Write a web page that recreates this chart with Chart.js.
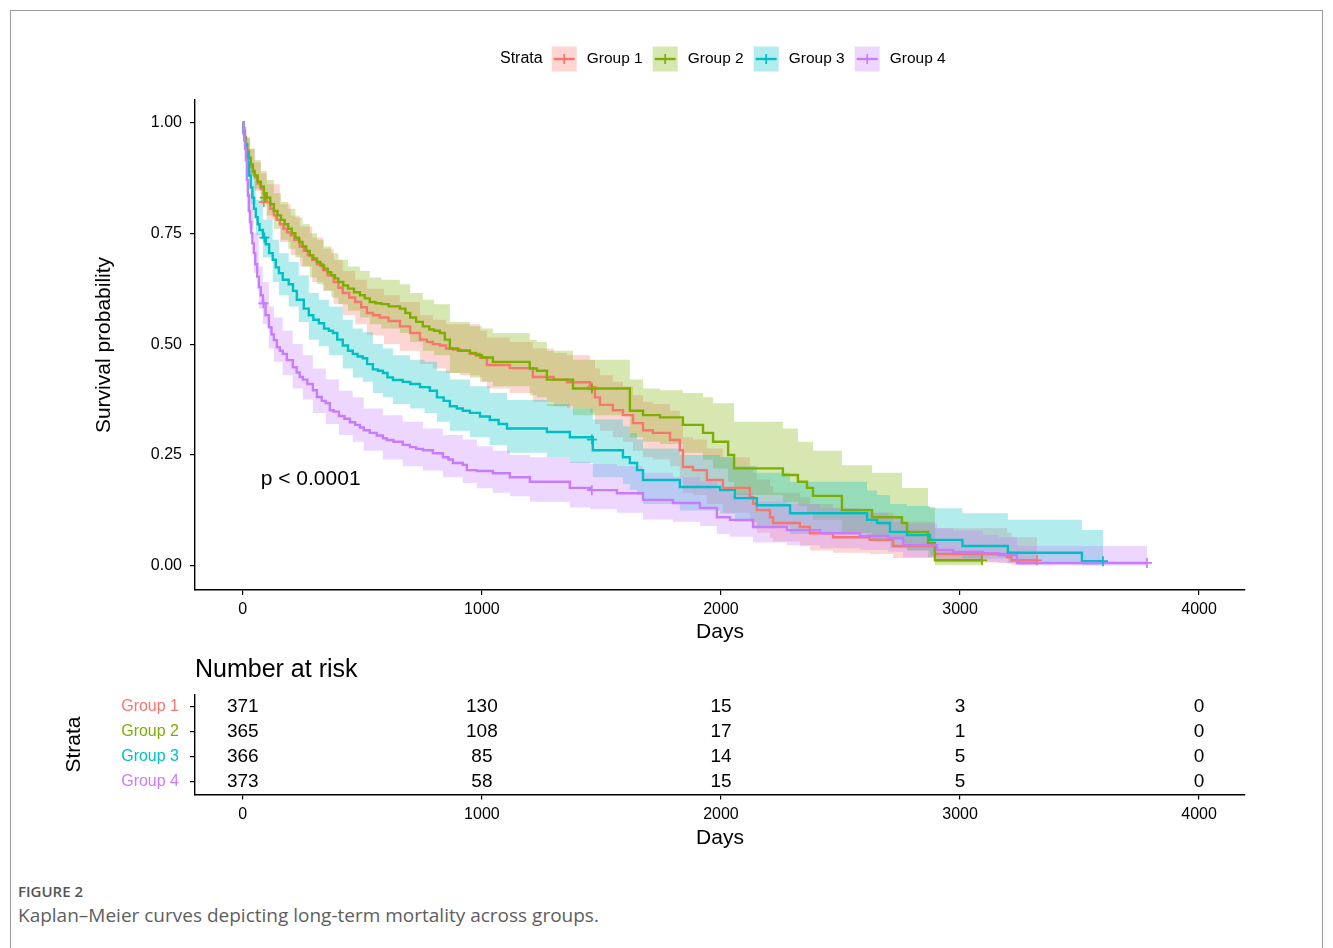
<!DOCTYPE html>
<html>
<head>
<meta charset="utf-8">
<script src="https://cdn.jsdelivr.net/npm/chart.js@4.4.1/dist/chart.umd.min.js"></script>
<style>
html,body{margin:0;padding:0;background:#fff;width:1333px;height:948px;overflow:hidden;}
#frame{position:absolute;left:10px;top:10px;width:1313px;height:1000px;border:1px solid #9a9a9a;box-sizing:border-box;}
#main{position:absolute;left:0;top:0;}
#risk{position:absolute;left:0;top:640px;}
#cap1{position:absolute;left:18px;top:881px;font-family:"Open Sans",sans-serif;font-size:15px;line-height:20px;font-weight:600;color:#555;}
#cap2{position:absolute;left:18px;top:902px;font-family:"Open Sans",sans-serif;font-size:19px;line-height:26px;color:#5e5e5e;}
</style>
</head>
<body>
<div id="frame"></div>
<canvas id="main" width="1333" height="660"></canvas>
<canvas id="risk" width="1333" height="230"></canvas>
<div id="cap1">FIGURE 2</div>
<div id="cap2">Kaplan–Meier curves depicting long-term mortality across groups.</div>
<script>
// ---------- DATA ----------
const groups = ['Group 1', 'Group 2', 'Group 3', 'Group 4'];
const xTicks = [0, 1000, 2000, 3000, 4000];
const yTicks = [0, 0.25, 0.5, 0.75, 1];

// survival curves (step points: time, survival after the step)
const g1Time = [0,3,7,12,18,25,33,42,50,62,75,88,100,115,130,142,155,170,185,200,215,238,255,272,290,310,335,355,380,400,418,445,470,495,519,545,573,610,657,700,741,770,795,824,850,880,908,950,992,1021,1117,1213,1300,1356,1452,1473,1494,1548,1590,1632,1674,1715,1787,1828,1841,1883,1941,2008,2121,2135,2150,2205,2218,2330,2372,2469,2623,2720,2895,3197,3215,3322];
const g1Surv = [1,0.98,0.965,0.95,0.935,0.918,0.90,0.888,0.876,0.862,0.85,0.835,0.82,0.805,0.79,0.78,0.77,0.76,0.752,0.745,0.735,0.72,0.71,0.70,0.69,0.68,0.667,0.655,0.64,0.627,0.615,0.605,0.595,0.583,0.57,0.565,0.56,0.552,0.54,0.525,0.51,0.505,0.50,0.497,0.49,0.488,0.486,0.478,0.47,0.453,0.446,0.426,0.42,0.414,0.403,0.38,0.363,0.351,0.34,0.322,0.306,0.30,0.284,0.261,0.223,0.216,0.194,0.176,0.155,0.14,0.126,0.11,0.097,0.088,0.074,0.065,0.059,0.045,0.027,0.02,0.013,0.013];

const g2Time = [0,3,7,12,18,25,33,42,50,62,75,88,100,115,130,145,160,175,190,205,220,235,250,265,280,295,310,325,340,355,370,385,400,420,440,465,490,510,531,555,580,610,657,680,700,725,753,780,800,824,845,866,900,950,975,1000,1046,1200,1230,1272,1381,1619,1674,1745,1841,1925,1967,2030,2055,2259,2322,2360,2385,2506,2632,2757,2778,2866,2895,3092];
const g2Surv = [1,0.98,0.965,0.95,0.935,0.92,0.905,0.89,0.88,0.866,0.855,0.84,0.83,0.815,0.80,0.79,0.78,0.77,0.76,0.75,0.74,0.73,0.72,0.71,0.70,0.693,0.685,0.677,0.67,0.662,0.655,0.648,0.64,0.632,0.625,0.617,0.61,0.603,0.595,0.592,0.59,0.585,0.58,0.57,0.56,0.55,0.54,0.533,0.53,0.525,0.51,0.49,0.485,0.48,0.475,0.47,0.46,0.445,0.44,0.42,0.40,0.35,0.34,0.335,0.318,0.30,0.28,0.25,0.22,0.205,0.19,0.176,0.158,0.126,0.11,0.097,0.077,0.052,0.013,0.013];

const g3Time = [0,3,7,10,15,20,26,33,40,47,54,62,70,84,96,110,125,138,151,167,192,210,226,255,276,295,318,340,360,377,395,418,440,460,480,502,520,544,565,586,605,628,669,700,741,782,812,840,866,895,920,950,992,1033,1070,1105,1272,1368,1464,1590,1619,1649,1674,1828,1996,2058,2150,2289,2611,2653,2707,2778,2874,3010,3200,3510,3598];
const g3Surv = [1,0.975,0.96,0.95,0.93,0.91,0.88,0.853,0.83,0.805,0.786,0.77,0.757,0.74,0.725,0.705,0.69,0.673,0.66,0.645,0.635,0.62,0.60,0.58,0.565,0.555,0.547,0.535,0.53,0.525,0.51,0.497,0.485,0.478,0.472,0.468,0.455,0.443,0.44,0.435,0.425,0.419,0.415,0.41,0.403,0.395,0.38,0.372,0.36,0.355,0.35,0.345,0.337,0.329,0.32,0.31,0.302,0.29,0.261,0.245,0.232,0.216,0.194,0.178,0.171,0.153,0.137,0.119,0.104,0.097,0.077,0.07,0.059,0.045,0.03,0.011,0.011];

const g4Time = [0,3,6,9,13,17,21,25,30,35,40,46,52,60,67,75,84,95,109,120,130,142,155,167,184,209,225,238,251,270,293,310,330,347,364,380,402,425,448,470,490,506,531,560,586,602,630,669,699,725,753,795,837,860,879,920,937,979,1046,1117,1201,1368,1452,1565,1674,1799,1912,1983,2038,2134,2276,2414,2582,2700,2762,2904,2971,3096,3160,3238,3782];
const g4Surv = [1,0.975,0.96,0.94,0.914,0.87,0.835,0.80,0.775,0.75,0.727,0.705,0.68,0.652,0.628,0.61,0.592,0.565,0.538,0.522,0.509,0.493,0.485,0.478,0.464,0.448,0.436,0.426,0.42,0.41,0.396,0.381,0.372,0.367,0.351,0.348,0.338,0.332,0.324,0.318,0.312,0.306,0.30,0.294,0.288,0.284,0.28,0.273,0.268,0.264,0.261,0.254,0.245,0.24,0.232,0.228,0.216,0.214,0.209,0.20,0.19,0.176,0.171,0.164,0.149,0.142,0.131,0.11,0.104,0.088,0.081,0.074,0.068,0.063,0.047,0.036,0.032,0.029,0.025,0.007,0.007];

// confidence bands (time, lower, upper)
const g1BandTime = [0,5,15,30,50,75,100,155,200,238,290,335,380,418,470,519,590,657,741,795,850,908,992,1021,1117,1213,1300,1356,1452,1473,1494,1548,1590,1632,1674,1715,1787,1828,1841,1883,1941,2008,2121,2135,2150,2205,2218,2330,2372,2469,2623,2720,2895,3197,3215,3322];
const g1Lower = [1,0.95,0.915,0.88,0.845,0.815,0.78,0.73,0.70,0.675,0.64,0.62,0.59,0.565,0.545,0.52,0.50,0.485,0.455,0.445,0.435,0.43,0.415,0.40,0.39,0.37,0.36,0.355,0.345,0.32,0.305,0.29,0.28,0.26,0.245,0.24,0.225,0.20,0.165,0.16,0.14,0.12,0.10,0.09,0.075,0.063,0.055,0.045,0.035,0.03,0.027,0.018,0.008,0.005,0.003,0.003];
const g1Upper = [1,0.99,0.965,0.94,0.91,0.885,0.86,0.815,0.79,0.765,0.74,0.715,0.69,0.665,0.645,0.625,0.61,0.595,0.565,0.555,0.545,0.545,0.53,0.515,0.505,0.49,0.48,0.475,0.465,0.445,0.43,0.415,0.405,0.385,0.37,0.365,0.35,0.33,0.29,0.285,0.265,0.245,0.225,0.21,0.195,0.18,0.165,0.155,0.14,0.13,0.12,0.10,0.085,0.075,0.065,0.065];

const g2BandTime = [0,5,15,30,50,75,100,130,160,190,220,250,280,310,340,370,400,440,490,531,580,657,700,753,800,866,950,1000,1046,1200,1230,1272,1381,1619,1674,1745,1841,1925,1967,2030,2055,2259,2322,2360,2385,2506,2632,2757,2778,2866,2895,3092];
const g2Lower = [1,0.95,0.915,0.88,0.85,0.82,0.79,0.76,0.735,0.715,0.695,0.675,0.65,0.635,0.62,0.605,0.59,0.575,0.56,0.545,0.535,0.525,0.505,0.485,0.475,0.435,0.425,0.415,0.405,0.385,0.38,0.36,0.34,0.29,0.28,0.275,0.255,0.24,0.22,0.19,0.16,0.145,0.135,0.12,0.105,0.075,0.06,0.05,0.035,0.02,0.002,0.002];
const g2Upper = [1,0.99,0.965,0.94,0.915,0.89,0.87,0.84,0.82,0.805,0.785,0.77,0.75,0.735,0.72,0.705,0.69,0.675,0.665,0.65,0.645,0.635,0.615,0.60,0.59,0.55,0.54,0.535,0.525,0.51,0.505,0.485,0.465,0.42,0.40,0.396,0.39,0.38,0.367,0.367,0.325,0.31,0.28,0.28,0.26,0.227,0.21,0.176,0.176,0.133,0.03,0.03];

const g3BandTime = [0,10,20,33,54,84,125,151,192,234,276,318,360,418,460,502,544,586,628,700,760,812,866,950,1033,1105,1272,1368,1464,1590,1619,1649,1674,1828,1996,2058,2150,2289,2611,2653,2707,2778,2874,3010,3200,3510,3598];
const g3Lower = [1,0.93,0.88,0.815,0.745,0.695,0.64,0.61,0.585,0.55,0.51,0.495,0.475,0.445,0.425,0.415,0.39,0.38,0.365,0.355,0.345,0.325,0.305,0.29,0.272,0.255,0.245,0.232,0.20,0.185,0.172,0.16,0.14,0.125,0.118,0.10,0.09,0.072,0.06,0.055,0.04,0.035,0.025,0.017,0.008,0.002,0.002];
const g3Upper = [1,0.97,0.935,0.89,0.825,0.78,0.735,0.705,0.685,0.655,0.615,0.60,0.585,0.555,0.535,0.527,0.50,0.49,0.475,0.465,0.46,0.44,0.42,0.405,0.39,0.374,0.365,0.355,0.33,0.315,0.30,0.285,0.265,0.25,0.245,0.225,0.21,0.19,0.17,0.16,0.14,0.135,0.13,0.119,0.104,0.081,0.081];

const g4BandTime = [0,6,13,25,46,67,84,109,130,167,209,251,293,347,402,460,506,586,669,753,837,920,979,1046,1117,1201,1368,1452,1565,1674,1799,1912,1983,2038,2134,2276,2414,2582,2700,2762,2904,2971,3096,3160,3238,3782];
const g4Lower = [1,0.94,0.885,0.76,0.66,0.58,0.545,0.49,0.46,0.43,0.40,0.375,0.345,0.32,0.295,0.28,0.26,0.24,0.225,0.215,0.20,0.187,0.175,0.165,0.157,0.145,0.132,0.128,0.12,0.105,0.10,0.09,0.072,0.066,0.053,0.047,0.04,0.036,0.032,0.02,0.013,0.011,0.009,0.007,0.001,0.001];
const g4Upper = [1,0.98,0.94,0.84,0.75,0.675,0.64,0.585,0.56,0.53,0.50,0.475,0.445,0.42,0.395,0.38,0.355,0.34,0.325,0.31,0.295,0.285,0.27,0.26,0.25,0.245,0.235,0.23,0.225,0.21,0.20,0.19,0.17,0.165,0.145,0.14,0.13,0.12,0.11,0.095,0.085,0.08,0.07,0.065,0.045,0.045];

// censoring marks
const c1Time = [88, 1460, 3322];  const c1Surv = [0.82, 0.403, 0.013];
const c2Time = [92, 1460, 3092];  const c2Surv = [0.83, 0.40, 0.013];
const c3Time = [90, 1460, 3598];  const c3Surv = [0.74, 0.285, 0.011];
const c4Time = [86, 1460, 3782];  const c4Surv = [0.592, 0.171, 0.007];

// number at risk
const riskTimes = [0, 1000, 2000, 3000, 4000];
const riskG1 = [371, 130, 15, 3, 0];
const riskG2 = [365, 108, 17, 1, 0];
const riskG3 = [366, 85, 14, 5, 0];
const riskG4 = [373, 58, 15, 5, 0];

const pText = 'p < 0.0001';
const pPos = [75, 0.195];

// ---------- STYLE ----------
const colors = ['#F8766D', '#7CAE00', '#00BFC4', '#C77CFF'];
const FONT = '"Liberation Sans", Arial, sans-serif';
Chart.defaults.font.family = FONT;
Chart.defaults.color = '#000';
function rgba(hex, a) {
  const n = parseInt(hex.slice(1), 16);
  return `rgba(${(n >> 16) & 255},${(n >> 8) & 255},${n & 255},${a})`;
}

const series = [
  {time: g1Time, surv: g1Surv, bt: g1BandTime, lo: g1Lower, hi: g1Upper, ct: c1Time, cs: c1Surv},
  {time: g2Time, surv: g2Surv, bt: g2BandTime, lo: g2Lower, hi: g2Upper, ct: c2Time, cs: c2Surv},
  {time: g3Time, surv: g3Surv, bt: g3BandTime, lo: g3Lower, hi: g3Upper, ct: c3Time, cs: c3Surv},
  {time: g4Time, surv: g4Surv, bt: g4BandTime, lo: g4Lower, hi: g4Upper, ct: c4Time, cs: c4Surv}
];

const datasets = [];
series.forEach((s, i) => {
  datasets.push({
    label: groups[i] + ' upper', data: s.bt.map((t, k) => ({x: t, y: s.hi[k]})),
    stepped: true, borderWidth: 0, borderColor: 'rgba(0,0,0,0)', pointRadius: 0,
    fill: '+1', backgroundColor: rgba(colors[i], 0.3), order: 30 - i
  });
  datasets.push({
    label: groups[i] + ' lower', data: s.bt.map((t, k) => ({x: t, y: s.lo[k]})),
    stepped: true, borderWidth: 0, borderColor: 'rgba(0,0,0,0)', pointRadius: 0,
    fill: false, order: 30 - i
  });
});
series.forEach((s, i) => {
  datasets.push({
    label: groups[i], data: s.time.map((t, k) => ({x: t, y: s.surv[k]})),
    stepped: true, borderColor: colors[i], borderWidth: 2.4, pointRadius: 0, fill: false,
    order: 10 - i
  });
});
series.forEach((s, i) => {
  datasets.push({
    label: groups[i] + ' censor', data: s.ct.map((t, k) => ({x: t, y: s.cs[k]})),
    showLine: false, pointStyle: 'cross', pointRadius: 5, pointBorderWidth: 1.7,
    borderColor: colors[i], pointBorderColor: colors[i], fill: false, order: 5 - i
  });
});

const legendPlugin = {
  id: 'kmLegend',
  afterDraw(chart) {
    const ctx = chart.ctx;
    ctx.save();
    const cy = 59;
    let x = 500;
    ctx.textBaseline = 'middle';
    ctx.textAlign = 'left';
    ctx.fillStyle = '#000';
    ctx.font = '16px ' + FONT;
    ctx.fillText('Strata', x, cy);
    x += ctx.measureText('Strata').width + 9;
    ctx.font = '15.5px ' + FONT;
    groups.forEach((g, i) => {
      ctx.fillStyle = rgba(colors[i], 0.3);
      ctx.fillRect(x, cy - 12.5, 25, 25);
      ctx.strokeStyle = colors[i];
      ctx.lineWidth = 2.4;
      ctx.beginPath(); ctx.moveTo(x + 2, cy); ctx.lineTo(x + 23, cy); ctx.stroke();
      ctx.lineWidth = 1.7;
      ctx.beginPath(); ctx.moveTo(x + 12.5, cy - 5); ctx.lineTo(x + 12.5, cy + 5); ctx.stroke();
      x += 25 + 10;
      ctx.fillStyle = '#000';
      ctx.fillText(g, x, cy);
      x += ctx.measureText(g).width + 10;
    });
    const xs = chart.scales.x, ys = chart.scales.y;
    ctx.font = '21px ' + FONT;
    ctx.fillStyle = '#000';
    ctx.fillText(pText, xs.getPixelForValue(pPos[0]), ys.getPixelForValue(pPos[1]));
    ctx.restore();
  }
};

new Chart(document.getElementById('main'), {
  type: 'line',
  data: {datasets},
  options: {
    responsive: false, animation: false, devicePixelRatio: 1,
    layout: {padding: {left: 0, right: 88, top: 100, bottom: 0}},
    plugins: {legend: {display: false}, tooltip: {enabled: false}},
    scales: {
      x: {
        type: 'linear', min: -200, max: 4192,
        afterBuildTicks: sc => { sc.ticks = xTicks.map(v => ({value: v})); },
        afterFit: sc => { sc.height = 70; },
        grid: {display: true, drawOnChartArea: false, drawTicks: true, tickLength: 5, color: '#000', lineWidth: 1.2},
        border: {display: true, color: '#000', width: 1.4},
        ticks: {color: '#000', font: {size: 16}, padding: 5, maxRotation: 0, autoSkip: false, callback: v => String(v)},
        title: {display: true, text: 'Days', color: '#000', font: {size: 21}, padding: {top: 0, bottom: 15}}
      },
      y: {
        type: 'linear', min: -0.054, max: 1.05,
        afterBuildTicks: sc => { sc.ticks = yTicks.map(v => ({value: v})); },
        afterFit: sc => { sc.width = 195; },
        grid: {display: true, drawOnChartArea: false, drawTicks: true, tickLength: 5, color: '#000', lineWidth: 1.2},
        border: {display: true, color: '#000', width: 1.4},
        ticks: {color: '#000', font: {size: 16}, padding: 8, autoSkip: false, callback: v => Number(v).toFixed(2)},
        title: {display: true, text: 'Survival probability', color: '#000', font: {size: 21}, padding: {top: 92, bottom: 0}}
      }
    }
  },
  plugins: [legendPlugin]
});

// ---------- RISK TABLE ----------
const riskData = [riskG1, riskG2, riskG3, riskG4];
const riskDatasets = groups.map((g, i) => ({
  label: g,
  data: riskTimes.map((t, k) => ({x: t, y: g, n: riskData[i][k]})),
  showLine: false, pointRadius: 0
}));

const riskPlugin = {
  id: 'riskText',
  afterDatasetsDraw(chart) {
    const ctx = chart.ctx;
    ctx.save();
    ctx.fillStyle = '#000';
    ctx.textAlign = 'center';
    ctx.textBaseline = 'middle';
    ctx.font = '19px ' + FONT;
    chart.data.datasets.forEach((ds, i) => {
      const meta = chart.getDatasetMeta(i);
      meta.data.forEach((el, k) => {
        ctx.fillText(String(ds.data[k].n), el.x, el.y);
      });
    });
    ctx.textAlign = 'left';
    ctx.font = '25px ' + FONT;
    ctx.fillText('Number at risk', chart.chartArea.left, 30);
    ctx.restore();
  }
};

new Chart(document.getElementById('risk'), {
  type: 'line',
  data: {labels: groups, datasets: riskDatasets},
  options: {
    responsive: false, animation: false, devicePixelRatio: 1,
    layout: {padding: {left: 0, right: 88, top: 54.5, bottom: 0}},
    plugins: {legend: {display: false}, tooltip: {enabled: false}},
    scales: {
      x: {
        type: 'linear', min: -200, max: 4192,
        afterBuildTicks: sc => { sc.ticks = xTicks.map(v => ({value: v})); },
        afterFit: sc => { sc.height = 75.5; },
        grid: {display: true, drawOnChartArea: false, drawTicks: true, tickLength: 5, color: '#000', lineWidth: 1.2},
        border: {display: true, color: '#000', width: 1.4},
        ticks: {color: '#000', font: {size: 16}, padding: 5, maxRotation: 0, autoSkip: false, callback: v => String(v)},
        title: {display: true, text: 'Days', color: '#000', font: {size: 21}, padding: {top: 0, bottom: 19}}
      },
      y: {
        type: 'category', labels: groups, offset: true,
        afterFit: sc => { sc.width = 195; },
        grid: {display: true, offset: false, drawOnChartArea: false, drawTicks: true, tickLength: 5, color: '#000', lineWidth: 1.2},
        border: {display: true, color: '#000', width: 1.4},
        ticks: {font: {size: 16}, padding: 11, autoSkip: false, color: c => colors[c.index]},
        title: {display: true, text: 'Strata', color: '#000', font: {size: 21}, padding: {top: 62, bottom: 0}}
      }
    }
  },
  plugins: [riskPlugin]
});
</script>
</body>
</html>
